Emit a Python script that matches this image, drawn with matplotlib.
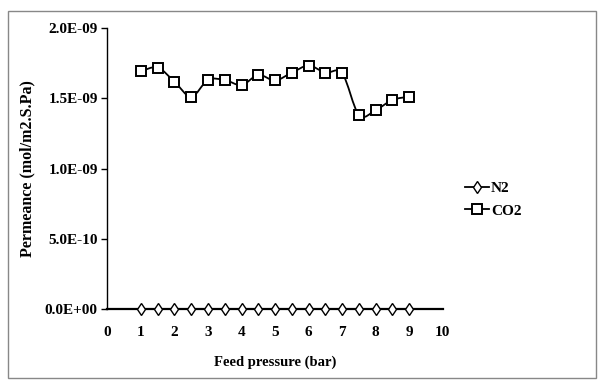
import matplotlib
matplotlib.use("Agg")
import matplotlib.pyplot as plt
import numpy as np
from matplotlib.path import Path
from matplotlib.patches import PathPatch, Rectangle

pressure = [1, 1.5, 2, 2.5, 3, 3.5, 4, 4.5, 5, 5.5, 6, 6.5, 7, 7.5, 8, 8.5, 9]
co2 = [1.692e-9, 1.718e-9, 1.618e-9, 1.511e-9, 1.630e-9, 1.630e-9, 1.594e-9,
       1.665e-9, 1.627e-9, 1.682e-9, 1.732e-9, 1.682e-9, 1.677e-9, 1.381e-9,
       1.416e-9, 1.488e-9, 1.511e-9]
n2 = [0.0] * 17
xticks = [0, 1, 2, 3, 4, 5, 6, 7, 8, 9, 10]
yticks = [0, 5e-10, 1e-9, 1.5e-9, 2e-9]
ytick_labels = ["0.0E+00", "5.0E-10", "1.0E-09", "1.5E-09", "2.0E-09"]

plt.rcParams['font.family'] = ['Liberation Serif', 'DejaVu Serif']
plt.rcParams['font.weight'] = 'bold'

fig = plt.figure(figsize=(6, 3.83), dpi=100)
fig.patches.append(Rectangle((8/600, 5/383), 588/600, 367/383, transform=fig.transFigure,
                             fill=False, edgecolor='#888888', lw=1.0))
ax = fig.add_axes([0.179, 0.193, 0.559, 0.734])


def smooth_path(xs, ys, t=1/6):
    xs = np.asarray(xs, float); ys = np.asarray(ys, float)
    n = len(xs)
    verts = [(xs[0], ys[0])]
    codes = [Path.MOVETO]
    for i in range(n - 1):
        p0 = np.array([xs[max(i-1, 0)], ys[max(i-1, 0)]])
        p1 = np.array([xs[i], ys[i]])
        p2 = np.array([xs[i+1], ys[i+1]])
        p3 = np.array([xs[min(i+2, n-1)], ys[min(i+2, n-1)]])
        c1 = p1 + (p2 - p0) * t
        c2 = p2 - (p3 - p1) * t
        verts += [tuple(c1), tuple(c2), tuple(p2)]
        codes += [Path.CURVE4] * 3
    return Path(verts, codes)

ax.add_patch(PathPatch(smooth_path(pressure, co2), fill=False, edgecolor='black', lw=1.3, zorder=2))
ax.plot(pressure, n2, color='black', lw=1.3, marker='d', markersize=6,
        markerfacecolor='white', markeredgecolor='black', markeredgewidth=1.0, label='N2',
        zorder=3, clip_on=False)
ax.plot(pressure, co2, linestyle='none', marker='s', markersize=6.5,
        markerfacecolor='white', markeredgecolor='black', markeredgewidth=1.4, zorder=3)
# legend proxy
ax.plot([], [], color='black', lw=1.3, marker='s', markersize=6.5, markerfacecolor='white',
        markeredgecolor='black', markeredgewidth=1.4, label='CO2')

ax.set_xlim(0, 10)
ax.set_ylim(0, 2e-9)
ax.set_xticks(xticks)
ax.set_xticklabels([str(v) for v in xticks])
ax.set_yticks(yticks)
ax.set_yticklabels(ytick_labels)
for s in ['top', 'right']:
    ax.spines[s].set_visible(False)
ax.spines['left'].set_linewidth(1.0)
ax.spines['bottom'].set_linewidth(1.6)
ax.tick_params(axis='x', length=0, pad=12, labelsize=11)
ax.tick_params(axis='y', length=4, width=1, direction='out', pad=3, labelsize=11)
for lab in ax.get_xticklabels() + ax.get_yticklabels():
    lab.set_fontweight('bold')

ax.set_xlabel('Feed pressure (bar)', fontsize=10.5, fontweight='bold', labelpad=12)
ax.set_ylabel('Permeance (mol/m2.S.Pa)', fontsize=11.5, fontweight='bold', labelpad=7)

leg = ax.legend(loc='center left', bbox_to_anchor=(1.066, 0.39), frameon=False,
                fontsize=11, handlelength=1.6, handletextpad=0.1, labelspacing=0.6,
                borderaxespad=0, borderpad=0)
for t in leg.get_texts():
    t.set_fontweight('bold')

fig.savefig('out.png', dpi=100)
